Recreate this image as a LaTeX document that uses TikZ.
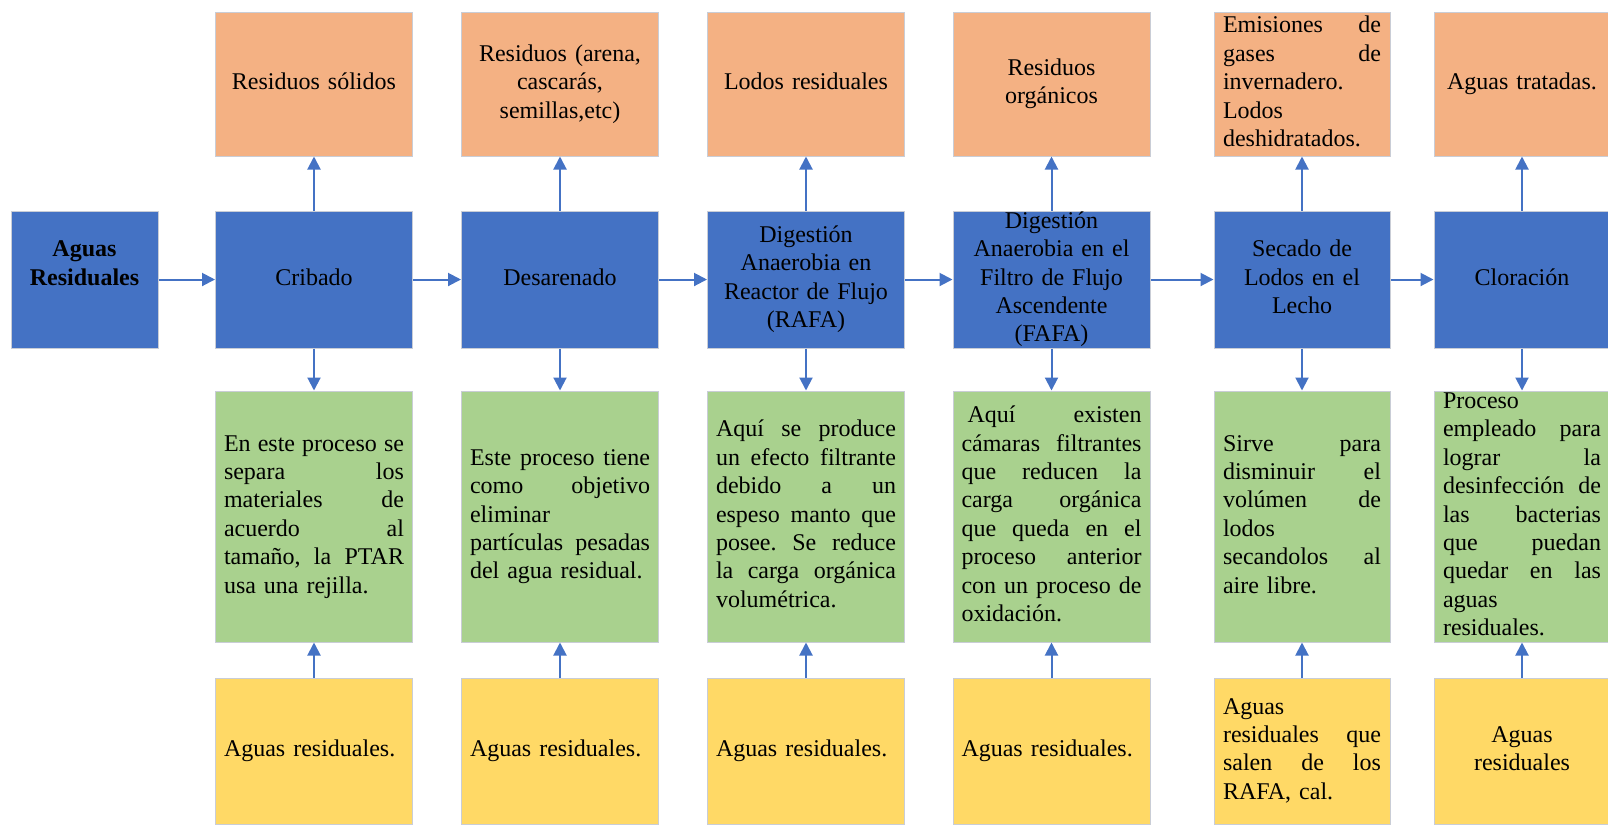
\documentclass[tikz,border=0pt]{standalone}
\usepackage{fontspec}
\setmainfont{Liberation Serif}
\usepackage{tikz}
\usetikzlibrary{positioning}
\usetikzlibrary{arrows.meta}
\definecolor{procblue}{HTML}{4472C4}
\definecolor{wasteorange}{HTML}{F4B183}
\definecolor{notegreen}{HTML}{A9D18E}
\definecolor{feedyellow}{HTML}{FFD966}
\definecolor{boxline}{HTML}{C9CDD6}
\colorlet{flowblue}{procblue}
% justified line, as wide as the column text
\def\colw{90pt}
\newcommand{\jl}[1]{\leavevmode\hbox to \colw{\frenchspacing\spaceskip=0pt plus 1fil\relax #1}}
\tikzset{
  box/.style={draw=boxline, line width=0.5pt, inner sep=0pt,
    font=\fontsize{12}{14.2}\selectfont,
    execute at begin node=\strut, execute at end node=\strut},
  wide/.style={minimum width=98.5pt, text width=90pt, /utils/exec={\def\colw{90pt}}},
  narrow/.style={minimum width=88pt, text width=79pt, /utils/exec={\def\colw{79pt}}},
  proc/.style={box, fill=procblue, minimum height=68.5pt, align=center},
  waste/.style={box, fill=wasteorange, minimum height=72pt, align=center},
  note/.style={box, fill=notegreen, minimum height=125.5pt, align=left},
  feed/.style={box, fill=feedyellow, minimum height=73pt, align=left},
  flow/.style={draw=flowblue, line width=1pt, -{Triangle[length=6.5pt,width=6.5pt]}}
}

\begin{document}
\begin{tikzpicture}[x=0.5pt,y=-0.5pt]
\useasboundingbox (0,0) rectangle (1608,827);

% ---------------- Entrada ----------------
\node[proc, minimum width=73.5pt, text width=65pt] (in) at (84.5,279.5)
  {\textbf{Aguas}\\\textbf{Residuales}\\\mbox{}};

% ---------------- Procesos ----------------
\node[proc, wide]   (p1) at (314,279.5)    {Cribado};
\node[proc, wide]   (p2) at (560,279.5)    {Desarenado};
\node[proc, wide]   (p3) at (806,279.5)    {Digestión\\Anaerobia en\\Reactor de Flujo\\(RAFA)};
\node[proc, wide, inner ysep=-2pt] (p4) at (1051.5,279.5)
  {Digestión\\Anaerobia en el\\Filtro de Flujo\\Ascendente\\(FAFA)};
\node[proc, narrow] (p5) at (1302,279.5)   {Secado de\\Lodos en el\\Lecho};
\node[proc, narrow] (p6) at (1522,279.5)   {Cloración};

% ---------------- Salidas ----------------
\node[waste, wide]   (o1) at (314,84)    {Residuos sólidos};
\node[waste, wide]   (o2) at (560,84)    {Residuos (arena,\\cascarás,\\semillas,etc)};
\node[waste, wide]   (o3) at (806,84)    {Lodos residuales};
\node[waste, wide]   (o4) at (1051.5,84) {Residuos\\orgánicos};
\node[waste, narrow, align=left] (o5) at (1302,84)
  {\jl{Emisiones de}\\\jl{gases de}\\invernadero.\\Lodos\\deshidratados.};
\node[waste, narrow] (o6) at (1522,84)   {Aguas tratadas.};

% ---------------- Descripciones ----------------
\node[note, wide] (d1) at (314,516.5)
  {\jl{En este proceso se}\\\jl{separa los}\\\jl{materiales de}\\\jl{acuerdo al}\\\jl{tamaño, la PTAR}\\usa una rejilla.};
\node[note, wide] (d2) at (560,516.5)
  {\jl{Este proceso tiene}\\\jl{como objetivo}\\eliminar\\\jl{partículas pesadas}\\del agua residual.};
\node[note, wide] (d3) at (806,516.5)
  {\jl{Aquí se produce}\\\jl{un efecto filtrante}\\\jl{debido a un}\\\jl{espeso manto que}\\\jl{posee. Se reduce}\\\jl{la carga orgánica}\\volumétrica.};
\node[note, wide] (d4) at (1051.5,516.5)
  {\jl{\hspace{3pt}Aquí existen}\\\jl{cámaras filtrantes}\\\jl{que reducen la}\\\jl{carga orgánica}\\\jl{que queda en el}\\\jl{proceso anterior}\\\jl{con un proceso de}\\oxidación.};
\node[note, narrow] (d5) at (1302,516.5)
  {\jl{Sirve para}\\\jl{disminuir el}\\\jl{volúmen de}\\lodos\\\jl{secandolos al}\\aire libre.};
\node[note, narrow, inner ysep=-2pt] (d6) at (1522,516.5)
  {Proceso\\\jl{empleado para}\\\jl{lograr la}\\\jl{desinfección de}\\\jl{las bacterias}\\\jl{que puedan}\\\jl{quedar en las}\\aguas\\residuales.};

% ---------------- Afluentes ----------------
\node[feed, wide]   (e1) at (314,751)    {Aguas residuales.};
\node[feed, wide]   (e2) at (560,751)    {Aguas residuales.};
\node[feed, wide]   (e3) at (806,751)    {Aguas residuales.};
\node[feed, wide]   (e4) at (1051.5,751) {Aguas residuales.};
\node[feed, narrow] (e5) at (1302,751)
  {Aguas\\\jl{residuales que}\\\jl{salen de los}\\RAFA, cal.};
\node[feed, narrow, align=center] (e6) at (1522,751) {Aguas\\residuales};

% ---------------- Flechas ----------------
\draw[flow] (in) -- (p1);
\foreach \a/\b in {1/2, 2/3, 3/4, 4/5, 5/6}{
  \draw[flow] (p\a) -- (p\b);
}
\foreach \i in {1,...,6}{
  \draw[flow] (p\i) -- (o\i);
  \draw[flow] (p\i) -- (d\i);
  \draw[flow] (e\i) -- (d\i);
}

\end{tikzpicture}
\end{document}
